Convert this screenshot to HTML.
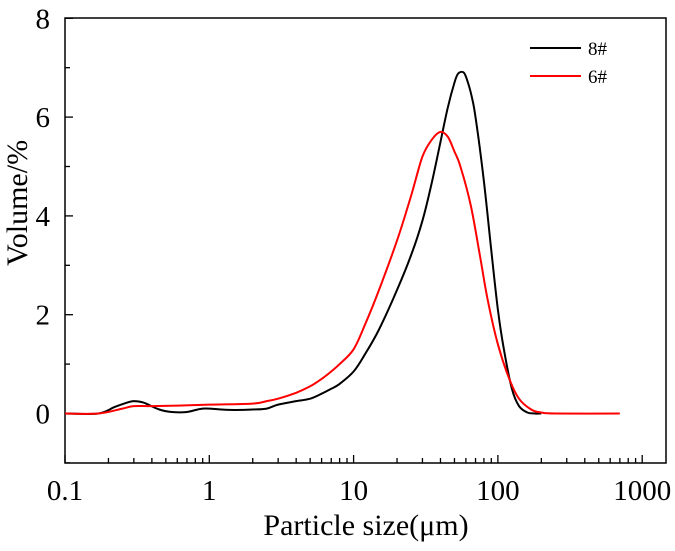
<!DOCTYPE html>
<html><head><meta charset="utf-8"><style>
html,body{margin:0;padding:0;background:#fff;}
svg text{font-family:"Liberation Serif","Times New Roman",serif;fill:#000;}
</style></head><body>
<svg id="chart" width="675" height="546" viewBox="0 0 675 546" xmlns="http://www.w3.org/2000/svg">
<g id="axes"></g>
<g id="series"></g>
<g id="legend"></g>
</svg>
<script>
const xTickValues=[0.1,1,10,100,1000];
const xTickLabels=["0.1","1","10","100","1000"];
const yTickValues=[0,2,4,6,8];
const yTickLabels=["0","2","4","6","8"];
const seriesNames=["8#","6#"];
const seriesColors=["#000000","#ff0000"];
const x8=[0.1,0.17,0.22,0.27,0.3,0.35,0.45,0.55,0.7,0.9,1.2,1.5,2,2.5,3,4,5,6,7,8,10,12,15,20,25,30,35,40,45,50,53,58,62,66,70,80,90,100,110,125,140,160,180,200];
const y8=[0,0,0.13,0.22,0.25,0.22,0.08,0.03,0.03,0.1,0.08,0.07,0.08,0.1,0.18,0.25,0.3,0.4,0.5,0.6,0.85,1.2,1.7,2.5,3.2,3.9,4.7,5.5,6.2,6.7,6.88,6.9,6.7,6.4,6.0,4.7,3.3,2.1,1.3,0.5,0.15,0.02,0.0,0];
const x6=[0.1,0.17,0.25,0.3,0.4,0.6,1,2,2.5,3,4,5,6,7,8,10,12,15,20,25,30,35,40,45,50,55,65,75,85,100,120,140,170,200,250,700];
const y6=[0,0,0.1,0.15,0.15,0.16,0.18,0.2,0.25,0.3,0.42,0.55,0.7,0.85,1.0,1.3,1.8,2.5,3.5,4.4,5.2,5.55,5.7,5.6,5.3,5.0,4.2,3.2,2.3,1.4,0.7,0.3,0.08,0.02,0,0];

const L=65,R=666,T=18,B=463;
const xs=v=>L+(Math.log10(v)+1)*144.3;
const ys=v=>413.5-v*49.4;
const NS="http://www.w3.org/2000/svg";
const FONT='"Liberation Serif","Times New Roman",serif';
function mk(tag,attrs,parent,text){const e=document.createElementNS(NS,tag);for(const k in attrs)e.setAttribute(k,attrs[k]);if(text!==undefined){e.textContent=text;e.setAttribute('font-family',FONT);}parent.appendChild(e);return e;}
function smooth(xv,yv){const p=xv.map((v,j)=>[xs(v),ys(yv[j])]);let d='M'+p[0][0].toFixed(1)+','+p[0][1].toFixed(1);
for(let i=0;i<p.length-1;i++){const p0=p[i-1]||p[i],p1=p[i],p2=p[i+1],p3=p[i+2]||p2;
const c1=[p1[0]+(p2[0]-p0[0])/6,p1[1]+(p2[1]-p0[1])/6],c2=[p2[0]-(p3[0]-p1[0])/6,p2[1]-(p3[1]-p1[1])/6];
d+=' C'+c1.map(n=>n.toFixed(1)).join(',')+' '+c2.map(n=>n.toFixed(1)).join(',')+' '+p2.map(n=>n.toFixed(1)).join(',');}
return d;}
const axes=document.getElementById('axes');
const frame=mk('rect',{x:L,y:T,width:R-L,height:B-T,fill:'none',stroke:'#000','stroke-width':1.5},axes);


for(let d=-1;d<=3;d++){for(let m=1;m<=9;m++){const v=m*Math.pow(10,d);const px=xs(v);if(px>R)continue;
const t=mk('line',{x1:px,x2:px,y1:B,y2:B-(m===1?8:5),stroke:'#000','stroke-width':1.3},axes);

}}
xTickValues.forEach((v,i)=>{const t=mk('text',{x:xs(v),y:500,'font-size':29,'text-anchor':'middle'},axes,xTickLabels[i]);

});
for(let v=-1;v<=8;v++){const py=ys(v);const major=v%2===0;
const t=mk('line',{x1:L,x2:L+(major?8:5),y1:py,y2:py,stroke:'#000','stroke-width':1.3},axes);

}
yTickValues.forEach((v,i)=>{const t=mk('text',{x:50,y:ys(v)+10,'font-size':29,'text-anchor':'end'},axes,yTickLabels[i]);

});
const xt=mk('text',{x:366,y:535,'font-size':30,'text-anchor':'middle'},axes,'Particle size(μm)');


const yt=mk('text',{x:0,y:0,'font-size':30,'text-anchor':'middle',transform:'translate(27,203) rotate(-90)'},axes,'Volume/%');


const ser=document.getElementById('series');
[[x8,y8],[x6,y6]].forEach((s,i)=>{
const p=mk('path',{d:smooth(s[0],s[1]),fill:'none',stroke:seriesColors[i],'stroke-width':2,'stroke-linejoin':'round'},ser);

});
const lg=document.getElementById('legend');


seriesNames.forEach((n,i)=>{const y=48+i*28;
const l=mk('line',{x1:530,x2:581,y1:y,y2:y,stroke:seriesColors[i],'stroke-width':2},lg);


const t=mk('text',{x:588,y:y+7,'font-size':19},lg,n);

});
</script>
</body></html>
